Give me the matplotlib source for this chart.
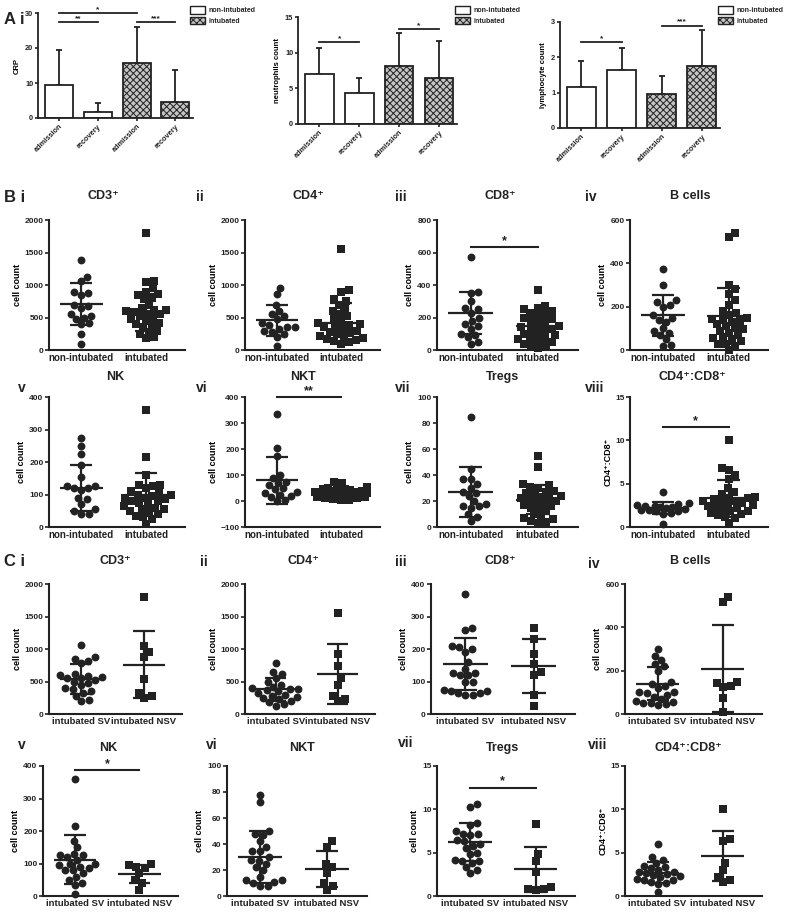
import numpy as np
import matplotlib
matplotlib.use("Agg")
import matplotlib.pyplot as plt
from matplotlib.patches import Patch

# ---- A: bar charts (non-intubated adm/rec, intubated adm/rec) ----
a_ticks = ["admission", "recovery", "admission", "recovery"]
crp_mean = [9.5, 1.8, 15.6, 4.6]
crp_sd = [10.0, 2.5, 10.5, 9.0]
neut_mean = [7.0, 4.4, 8.1, 6.4]
neut_sd = [3.7, 2.1, 4.6, 5.2]
lymph_mean = [1.15, 1.65, 0.95, 1.75]
lymph_sd = [0.75, 0.62, 0.52, 1.03]
crp_sig = [(0, 2, 29.9, "*"), (0, 1, 27.4, "**"), (2, 3, 27.3, "***")]
neut_sig = [(0, 1, 11.5, "*"), (2, 3, 13.3, "*")]
lymph_sig = [(0, 1, 2.43, "*"), (2, 3, 2.9, "***")]

# ---- B: non-intubated vs intubated ----
b_labels = ["non-intubated", "intubated"]
b_cd3_non = [1380, 1120, 1060, 900, 880, 850, 700, 680, 650, 560, 530, 500, 480, 420, 400, 250, 100]
b_cd3_int = [1800, 1060, 1040, 950, 900, 860, 850, 800, 780, 700, 650, 620, 610, 600, 580, 560, 550,
             520, 500, 480, 450, 420, 400, 380, 350, 300, 280, 250, 200, 180]
b_cd3_mean = [710, 575]
b_cd3_sd = [320, 290]

b_cd4_non = [960, 860, 700, 600, 560, 520, 480, 420, 380, 360, 350, 330, 300, 280, 250, 200, 60]
b_cd4_int = [1550, 920, 900, 780, 750, 700, 640, 600, 560, 520, 480, 450, 420, 400, 380, 360, 350,
             330, 300, 280, 260, 250, 220, 200, 180, 170, 150, 140, 120, 100]
b_cd4_mean = [460, 420]
b_cd4_sd = [240, 300]

b_cd8_non = [575, 360, 350, 300, 260, 250, 230, 200, 180, 160, 150, 130, 100, 90, 80, 50, 40]
b_cd8_int = [370, 270, 260, 250, 240, 230, 220, 210, 200, 190, 180, 170, 160, 150, 140, 130, 130,
             120, 110, 100, 90, 80, 70, 70, 60, 50, 40, 30, 20, 15]
b_cd8_mean = [228, 145]
b_cd8_sd = [132, 80]

b_bc_non = [375, 300, 230, 220, 210, 200, 160, 150, 140, 130, 100, 90, 80, 70, 50, 25, 20]
b_bc_int = [540, 520, 300, 280, 260, 230, 210, 180, 170, 160, 150, 145, 140, 135, 130, 120, 110,
            100, 95, 90, 80, 70, 60, 55, 50, 40, 30, 30, 20, 0]
b_bc_mean = [160, 158]
b_bc_sd = [95, 130]

b_nk_non = [275, 250, 225, 190, 155, 125, 125, 120, 120, 115, 90, 85, 70, 55, 50, 40, 40]
b_nk_int = [360, 215, 160, 130, 130, 125, 120, 110, 105, 100, 100, 95, 90, 90, 85, 80, 80, 75,
            70, 65, 60, 55, 55, 50, 45, 40, 35, 30, 25, 10]
b_nk_mean = [120, 100]
b_nk_sd = [72, 67]

b_nkt_non = [335, 205, 175, 100, 90, 75, 70, 60, 50, 45, 35, 30, 25, 20, 15, 5, 0]
b_nkt_int = [75, 70, 55, 50, 48, 45, 45, 42, 40, 40, 38, 35, 35, 32, 30, 30, 28, 25, 25, 22, 20,
             20, 18, 15, 15, 12, 10, 8, 5, 3]
b_nkt_mean = [80, 32]
b_nkt_sd = [90, 18]

b_treg_non = [85, 45, 37, 37, 33, 30, 27, 26, 24, 20, 18, 16, 16, 15, 10, 8, 5]
b_treg_int = [55, 46, 33, 32, 31, 30, 28, 27, 26, 25, 24, 23, 22, 22, 21, 20, 19, 18, 17, 16, 15,
              14, 12, 10, 8, 7, 6, 5, 4, 3]
b_treg_mean = [27, 21]
b_treg_sd = [19, 11]

b_ratio_non = [4.0, 2.8, 2.6, 2.5, 2.4, 2.4, 2.3, 2.3, 2.2, 2.1, 2.0, 2.0, 1.9, 1.8, 1.6, 1.5, 0.4]
b_ratio_int = [10.0, 6.8, 6.6, 6.0, 5.5, 4.5, 4.0, 3.8, 3.5, 3.4, 3.3, 3.2, 3.0, 3.0, 2.9, 2.8,
               2.6, 2.5, 2.4, 2.3, 2.2, 2.0, 1.9, 1.8, 1.6, 1.5, 1.4, 1.2, 1.0, 0.5]
b_ratio_mean = [2.2, 3.3]
b_ratio_sd = [0.7, 2.1]

# ---- C: intubated SV vs NSV ----
c_labels = ["intubated SV", "intubated NSV"]
c_cd3_sv = [1060, 870, 850, 820, 780, 620, 600, 590, 570, 560, 550, 520, 500, 480, 450, 400, 380,
            350, 330, 280, 220, 200]
c_cd3_nsv = [1800, 1050, 960, 880, 540, 330, 270, 250]
c_cd3_mean = [540, 760]
c_cd3_sd = [235, 520]

c_cd4_sv = [780, 650, 620, 550, 500, 450, 420, 400, 390, 380, 370, 350, 330, 300, 280, 260, 250,
            230, 200, 180, 150, 130]
c_cd4_nsv = [1550, 920, 740, 550, 450, 280, 230, 200]
c_cd4_mean = [380, 610]
c_cd4_sd = [180, 460]

c_cd8_sv = [370, 265, 260, 210, 205, 200, 190, 160, 140, 125, 125, 120, 120, 100, 100, 75, 70, 70,
            65, 65, 60, 60]
c_cd8_nsv = [265, 230, 185, 155, 130, 120, 60, 25]
c_cd8_mean = [155, 148]
c_cd8_sd = [80, 82]

c_bc_sv = [300, 270, 250, 230, 220, 200, 150, 140, 130, 120, 100, 100, 95, 90, 80, 70, 60, 55, 50,
           50, 45, 40]
c_bc_nsv = [540, 515, 150, 145, 130, 125, 75, 10]
c_bc_mean = [140, 210]
c_bc_sd = [75, 200]

c_nk_sv = [360, 215, 170, 150, 130, 125, 125, 120, 110, 100, 100, 95, 90, 85, 80, 80, 70, 60, 50,
           40, 35, 5]
c_nk_nsv = [100, 95, 90, 85, 70, 50, 40, 20]
c_nk_mean = [112, 67]
c_nk_sd = [75, 27]

c_nkt_sv = [78, 72, 50, 48, 47, 42, 38, 35, 35, 30, 28, 27, 25, 22, 20, 15, 12, 12, 11, 10, 8, 8]
c_nkt_nsv = [42, 38, 25, 22, 18, 10, 8, 5]
c_nkt_mean = [30, 21]
c_nkt_sd = [20, 14]

c_treg_sv = [10.6, 10.3, 8.4, 8.2, 7.5, 7.2, 7.1, 7.0, 6.5, 6.3, 6.0, 5.8, 5.5, 5.0, 4.8, 4.2, 4.0,
             4.0, 3.8, 3.3, 3.0, 2.6]
c_treg_nsv = [8.3, 4.8, 4.0, 2.8, 1.0, 0.8, 0.8, 0.7]
c_treg_mean = [6.2, 3.1]
c_treg_sd = [2.2, 2.6]

c_ratio_sv = [6.0, 4.5, 4.2, 3.8, 3.5, 3.3, 3.2, 3.0, 2.8, 2.8, 2.6, 2.5, 2.4, 2.3, 2.2, 2.0, 1.9,
              1.8, 1.6, 1.5, 1.4, 0.5]
c_ratio_nsv = [10.0, 6.6, 6.4, 3.8, 3.0, 2.2, 1.8, 1.6]
c_ratio_mean = [2.7, 4.6]
c_ratio_sd = [1.25, 2.9]

W, H = 789, 913
INK = "#222222"
plt.rcParams["font.family"] = ["Liberation Sans", "DejaVu Sans"]
plt.rcParams["font.weight"] = "bold"
plt.rcParams["axes.labelweight"] = "bold"
plt.rcParams["hatch.linewidth"] = 0.7
plt.rcParams["text.color"] = INK

fig = plt.figure(figsize=(W / 100, H / 100), dpi=100)


def px_axes(left, right, top, bottom):
    return fig.add_axes([left / W, 1 - bottom / H, (right - left) / W, (bottom - top) / H])


def ftext(x, y, s, **kw):
    fig.text(x / W, 1 - y / H, s, **kw)


def style(ax, lw=1.5):
    for side in ["top", "right"]:
        ax.spines[side].set_visible(False)
    for side in ["left", "bottom"]:
        ax.spines[side].set_linewidth(lw)
        ax.spines[side].set_color(INK)
    ax.tick_params(colors=INK, width=1.2)


def bar_panel(box, means, sds, ymax, ystep, ylabel, sig, leg_xy):
    ax = px_axes(*box)
    style(ax, 1.3)
    x = np.arange(4)
    ax.bar(x[:2], means[:2], 0.72, color="white", edgecolor=INK, lw=1.3, zorder=2)
    ax.bar(x[2:], means[2:], 0.72, color="#c4c4c4", edgecolor=INK, hatch="xxxxx", lw=1.3, zorder=2)
    ax.errorbar(x, means, yerr=[np.zeros(4), sds], fmt="none", ecolor=INK, elinewidth=1.3,
                capsize=2.5, capthick=1.3, zorder=1)
    ax.set_xlim(-0.53, 3.45)
    ax.set_ylim(0, ymax)
    ax.set_yticks(np.arange(0, ymax + ystep / 2, ystep))
    ax.set_xticks(x)
    ax.set_xticklabels(a_ticks, rotation=45, ha="right", rotation_mode="anchor", fontsize=5.3)
    ax.tick_params(axis="y", labelsize=5.3, length=2.5, pad=1)
    ax.tick_params(axis="x", length=2.5, pad=1)
    ax.set_ylabel(ylabel, fontsize=5.5, labelpad=3)
    for i, j, y, s in sig:
        ax.plot([i, j], [y, y], color=INK, lw=1.3, clip_on=False)
        ax.text((i + j) / 2, y, s, ha="center", va="bottom", fontsize=6, clip_on=False)
    handles = [Patch(facecolor="white", edgecolor=INK, lw=1),
               Patch(facecolor="#c4c4c4", edgecolor=INK, hatch="xxxxx", lw=1)]
    fig.legend(handles, ["non-intubated", "intubated"], loc="upper left",
               bbox_to_anchor=(leg_xy[0] / W, 1 - leg_xy[1] / H), frameon=False, fontsize=5,
               handlelength=2.2, handleheight=1.3, handletextpad=0.4, labelspacing=0.4,
               borderaxespad=0, borderpad=0)


def swarm(ax, vals, center, d_px, max_px=26):
    # beeswarm-style offsets in pixel space, kept within +-max_px of the group centre
    tr = ax.transData
    pts = tr.transform(np.column_stack([np.full(len(vals), float(center)), vals]))
    cx = pts[0, 0]
    cands = np.arange(0, max_px + 0.1, 1.0)
    cands = np.concatenate([[0.0], np.ravel(np.column_stack([cands[1:], -cands[1:]]))])
    out = np.empty(len(vals))
    placed = []
    for i in np.argsort(pts[:, 1], kind="stable"):
        y = pts[i, 1]
        best, best_d = 0.0, -1.0
        for off in cands:
            if placed:
                dmin = min(np.hypot(cx + off - a, y - b) for a, b in placed)
            else:
                dmin = np.inf
            if dmin >= 0.95 * d_px:
                best = off
                break
            if dmin > best_d + 0.5:
                best, best_d = off, dmin
        placed.append((cx + best, y))
        out[i] = cx + best
    return tr.inverted().transform(np.column_stack([out, pts[:, 1]]))[:, 0]


def dot_panel(box, g1, g2, means, sds, ylim, ystep, xlabels, ylabel="cell count", sig=None,
              xfs=7):
    ax = px_axes(*box)
    style(ax)
    ax.set_xlim(-0.5, 1.6)
    ax.set_ylim(*ylim)
    ax.set_yticks(np.arange(ylim[0], ylim[1] + ystep / 2, ystep))
    ax.set_xticks([0, 1])
    ax.set_xticklabels(xlabels, fontsize=xfs)
    ax.tick_params(axis="x", length=0, pad=2)
    ax.tick_params(axis="y", labelsize=6, length=3, pad=1)
    ax.set_ylabel(ylabel, fontsize=6.5, labelpad=2)
    for k, (vals, mk) in enumerate([(g1, "o"), (g2, "s")]):
        xs = swarm(ax, vals, k, 7.5)
        ax.scatter(xs, vals, s=32 if mk == "o" else 27, marker=mk, color=INK, lw=0, zorder=3,
                   clip_on=False)
        m, s = means[k], sds[k]
        ax.hlines(m, k - 0.33, k + 0.33, color=INK, lw=1.6, zorder=4)
        ax.vlines(k, m - s, m + s, color=INK, lw=1.6, zorder=4)
        ax.hlines([m - s, m + s], k - 0.17, k + 0.17, color=INK, lw=1.6, zorder=4)
    if sig:
        y, s = sig
        ax.plot([0, 1], [y, y], color=INK, lw=1.5, clip_on=False)
        ax.text(0.5, y, s, ha="center", va="bottom", fontsize=9, clip_on=False)
    return ax


# ---- row A ----
bar_panel((38, 193, 13, 118), crp_mean, crp_sd, 30, 10, "CRP", crp_sig, (190, 6))
bar_panel((298, 457, 17, 124), neut_mean, neut_sd, 15, 5, "neutrophils count", neut_sig, (455, 6))
bar_panel((560, 720, 22, 128), lymph_mean, lymph_sd, 3, 1, "lymphocyte count", lymph_sig, (718, 6))
ftext(4, 20, "A i", fontsize=12, va="center")

# ---- row B ----
r1 = (220, 350)
r2 = (397, 527)
dot_panel((49, 185) + r1, b_cd3_non, b_cd3_int, b_cd3_mean, b_cd3_sd, (0, 2000), 500, b_labels)
dot_panel((245, 380) + r1, b_cd4_non, b_cd4_int, b_cd4_mean, b_cd4_sd, (0, 2000), 500, b_labels)
dot_panel((437, 578) + r1, b_cd8_non, b_cd8_int, b_cd8_mean, b_cd8_sd, (0, 800), 200, b_labels,
          sig=(634, "*"))
dot_panel((630, 768) + r1, b_bc_non, b_bc_int, b_bc_mean, b_bc_sd, (0, 600), 200, b_labels)
dot_panel((49, 185) + r2, b_nk_non, b_nk_int, b_nk_mean, b_nk_sd, (0, 400), 100, b_labels)
dot_panel((245, 380) + r2, b_nkt_non, b_nkt_int, b_nkt_mean, b_nkt_sd, (-100, 400), 100, b_labels,
          sig=(400, "**"))
dot_panel((437, 578) + r2, b_treg_non, b_treg_int, b_treg_mean, b_treg_sd, (0, 100), 20, b_labels)
dot_panel((630, 768) + r2, b_ratio_non, b_ratio_int, b_ratio_mean, b_ratio_sd, (0, 15), 5, b_labels,
          ylabel="CD4⁺:CD8⁺", sig=(11.5, "*"))

# ---- row C ----
r3 = (584, 714)
r4 = (766, 896)
dot_panel((49, 182) + r3, c_cd3_sv, c_cd3_nsv, c_cd3_mean, c_cd3_sd, (0, 2000), 500, c_labels, xfs=6.8)
dot_panel((245, 375) + r3, c_cd4_sv, c_cd4_nsv, c_cd4_mean, c_cd4_sd, (0, 2000), 500, c_labels, xfs=6.8)
dot_panel((431, 575) + r3, c_cd8_sv, c_cd8_nsv, c_cd8_mean, c_cd8_sd, (0, 400), 100, c_labels, xfs=6.8)
dot_panel((625, 762) + r3, c_bc_sv, c_bc_nsv, c_bc_mean, c_bc_sd, (0, 600), 200, c_labels, xfs=6.8)
dot_panel((43, 178) + r4, c_nk_sv, c_nk_nsv, c_nk_mean, c_nk_sd, (0, 400), 100, c_labels, xfs=6.8,
          sig=(388, "*"))
dot_panel((227, 367) + r4, c_nkt_sv, c_nkt_nsv, c_nkt_mean, c_nkt_sd, (0, 100), 20, c_labels, xfs=6.8)
dot_panel((437, 575) + r4, c_treg_sv, c_treg_nsv, c_treg_mean, c_treg_sd, (0, 15), 5, c_labels,
          xfs=6.8, sig=(12.5, "*"))
dot_panel((625, 762) + r4, c_ratio_sv, c_ratio_nsv, c_ratio_mean, c_ratio_sd, (0, 15), 5, c_labels,
          xfs=6.8, ylabel="CD4⁺:CD8⁺")

# titles and panel numerals
titles = [(103, 196, "CD3⁺"), (308, 196, "CD4⁺"), (500, 196, "CD8⁺"), (690, 196, "B cells"),
          (115, 377, "NK"), (303, 377, "NKT"), (503, 377, "Tregs"), (692, 377, "CD4⁺:CD8⁺"),
          (115, 561, "CD3⁺"), (303, 561, "CD4⁺"), (500, 561, "CD8⁺"), (690, 561, "B cells"),
          (108, 748, "NK"), (302, 748, "NKT"), (503, 748, "Tregs"), (688, 748, "CD4⁺:CD8⁺")]
for x, y, s in titles:
    ftext(x, y, s, fontsize=9, ha="center", va="center")

numerals = [(4, 197, "B i", 12), (196, 197, "ii", 10), (395, 197, "iii", 10), (585, 197, "iv", 10),
            (18, 388, "v", 10), (196, 388, "vi", 10), (395, 388, "vii", 10), (585, 388, "viii", 10),
            (4, 562, "C i", 12), (200, 562, "ii", 10), (395, 562, "iii", 10), (588, 564, "iv", 10),
            (18, 745, "v", 10), (206, 745, "vi", 10), (398, 743, "vii", 10), (588, 745, "viii", 10)]
for x, y, s, fs in numerals:
    ftext(x, y, s, fontsize=fs, va="center")

fig.savefig("out.png", dpi=100)
